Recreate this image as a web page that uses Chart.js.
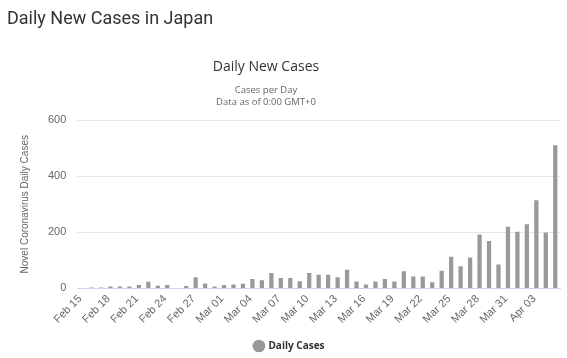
<!DOCTYPE html>
<html>
<head>
<meta charset="utf-8">
<script src="https://cdn.jsdelivr.net/npm/chart.js@4.4.1/dist/chart.umd.min.js"></script>
<style>
  html, body { margin: 0; padding: 0; background: #fff; }
  #wrap { position: relative; width: 567px; height: 358px; overflow: hidden; }
  #page-title { position: absolute; left: 7px; top: 7px; font-family: Roboto, "Liberation Sans", sans-serif; font-size: 18px; color: #333; white-space: nowrap; }
  #chart-title { position: absolute; left: 0; width: 532px; top: 56px; text-align: center; font-family: "Open Sans", sans-serif; font-size: 14px; color: #333; }
  #chart-sub { position: absolute; left: 0; width: 532px; top: 84px; text-align: center; font-family: "Open Sans", sans-serif; font-size: 9.5px; line-height: 12px; color: #666; }
  canvas { position: absolute; left: 0; top: 0; }
</style>
</head>
<body>
<div id="wrap">
  <canvas id="c" width="567" height="358"></canvas>
  <div id="page-title">Daily New Cases in Japan</div>
  <div id="chart-title">Daily New Cases</div>
  <div id="chart-sub">Cases per Day<br>Data as of 0:00 GMT+0</div>
</div>
<script>
const categories = [
  "Feb 15","Feb 16","Feb 17","Feb 18","Feb 19","Feb 20","Feb 21","Feb 22","Feb 23","Feb 24",
  "Feb 25","Feb 26","Feb 27","Feb 28","Feb 29","Mar 01","Mar 02","Mar 03","Mar 04","Mar 05",
  "Mar 06","Mar 07","Mar 08","Mar 09","Mar 10","Mar 11","Mar 12","Mar 13","Mar 14","Mar 15",
  "Mar 16","Mar 17","Mar 18","Mar 19","Mar 20","Mar 21","Mar 22","Mar 23","Mar 24","Mar 25",
  "Mar 26","Mar 27","Mar 28","Mar 29","Mar 30","Mar 31","Apr 01","Apr 02","Apr 03","Apr 04",
  "Apr 05"
];
const dailyCases = [
  0, 3, 3, 7, 7, 7, 12, 24, 10, 12,
  0, 9, 40, 18, 7, 12, 14, 17, 34, 29,
  55, 37, 37, 26, 55, 49, 49, 40, 67, 25,
  14, 25, 34, 25, 61, 43, 43, 22, 63, 113,
  79, 110, 192, 169, 85, 220, 202, 229, 314, 199,
  510
];
const yTicks = [0, 200, 400, 600];
const seriesName = "Daily Cases";
const yTitle = "Novel Coronavirus Daily Cases";

new Chart(document.getElementById('c'), {
  type: 'bar',
  data: {
    labels: categories,
    datasets: [{
      label: seriesName,
      data: dailyCases,
      backgroundColor: '#999999',
      borderWidth: 0,
      categoryPercentage: 1,
      barPercentage: 0.45
    }]
  },
  options: {
    responsive: false,
    animation: false,
    devicePixelRatio: 1,
    layout: { padding: { top: 120, left: 19, right: 7, bottom: -3 } },
    plugins: {
      title: { display: false },
      tooltip: { enabled: false },
      legend: {
        position: 'bottom',
        labels: {
          usePointStyle: true,
          pointStyle: 'circle',
          boxWidth: 9,
          boxHeight: 9,
          color: '#333',
          font: { family: '"Open Sans", sans-serif', size: 10, weight: 'bold' },
          padding: 6
        }
      }
    },
    scales: {
      x: {
        grid: { display: false, drawTicks: false },
        border: { display: true, color: '#ccd6eb', width: 1 },
        afterFit: function(axis) { axis.height += 5; },
        ticks: {
          autoSkip: false,
          minRotation: 45,
          maxRotation: 45,
          padding: 4,
          labelOffset: -2,
          color: '#666',
          font: { family: '"Liberation Sans", Arial, sans-serif', size: 11 },
          callback: function(v, i) { return i % 3 === 0 ? categories[i] : null; }
        }
      },
      y: {
        min: 0,
        max: 600,
        afterBuildTicks: function(axis) { axis.ticks = yTicks.map(v => ({ value: v })); },
        grid: { color: '#e6e6e6', drawTicks: false },
        border: { display: false },
        ticks: {
          padding: 11,
          color: '#666',
          font: { family: '"Liberation Sans", Arial, sans-serif', size: 11 }
        },
        title: {
          display: true,
          text: yTitle,
          color: '#666',
          padding: { top: 0, bottom: 6 },
          font: { family: '"Liberation Sans", Arial, sans-serif', size: 10 }
        }
      }
    }
  }
});
</script>
</body>
</html>
